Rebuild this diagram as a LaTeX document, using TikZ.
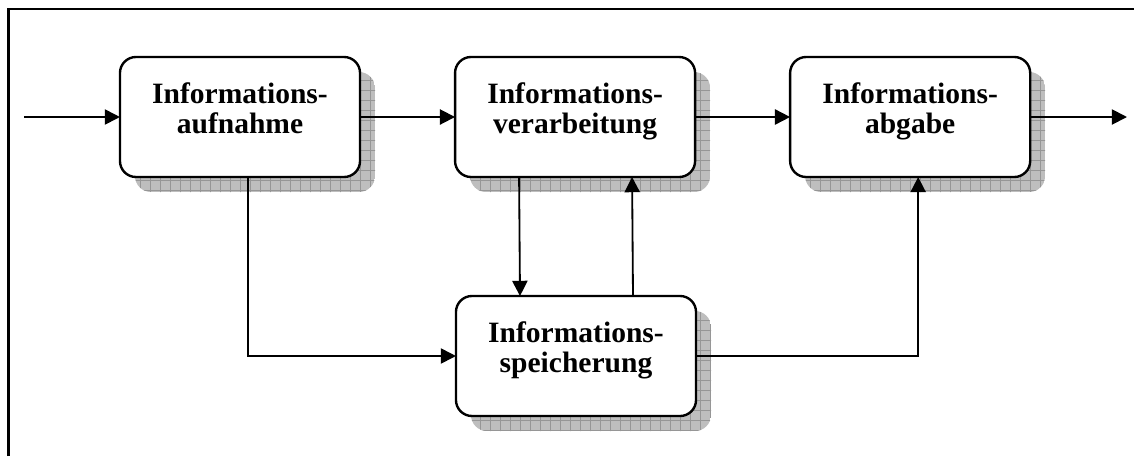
\documentclass[tikz,border=0pt]{standalone}
\usepackage{fontspec}
\setmainfont{Liberation Serif}
\usepackage{tikz}
\usetikzlibrary{arrows.meta, positioning, backgrounds}
\definecolor{shadowgray}{RGB}{190, 190, 190}
\definecolor{gridgray}{RGB}{150, 150, 150}

\begin{document}
\begin{tikzpicture}[
  x=0.025cm, y=-0.025cm,
  infobox/.style={rectangle, rounded corners=0.4cm, draw=black, line width=1.7pt, fill=white,
                  minimum width=6cm, minimum height=3cm, outer sep=0pt},
  infotext/.style={align=center, inner sep=0pt, anchor=north,
                   font=\fontsize{21}{21.3}\selectfont\bfseries},
  arrow/.style={-{Triangle[length=0.38cm, width=0.38cm]}, line width=1.3pt},
  frameline/.style={line width=1.8pt}
]
\useasboundingbox (0,0) rectangle (1134,456);

% frame (only top and left edge visible)
\draw[frameline] (8.5,456) -- (8.5,9) -- (1134,9);

% boxes
\node[infobox] (auf) at (240,117) {};
\node[infobox, right=2.375cm of auf] (ver) {};
\node[infobox, right=2.375cm of ver] (abg) {};
\node[infobox] (spe) at (576,356) {};

\node[infotext] (auf-t) at (auf.center |- 0,82) {Informations-\\aufnahme};
\node[infotext] (ver-t) at (ver.center |- 0,82) {Informations-\\verarbeitung};
\node[infotext] (abg-t) at (abg.center |- 0,82) {Informations-\\abgabe};
\node[infotext] (spe-t) at (spe.center |- 0,321) {Informations-\\speicherung};

% shadows
\begin{scope}[on background layer]
\foreach \n in {auf,ver,abg,spe} {
  \begin{scope}
    \clip[rounded corners=0.4cm] ([shift={(15,15)}]\n.north west) rectangle ([shift={(15,15)}]\n.south east);
    \fill[shadowgray] ([shift={(15,15)}]\n.north west) rectangle ([shift={(15,15)}]\n.south east);
    \draw[gridgray, line width=0.5pt, step=0.25cm] ([shift={(10,10)}]\n.north west) grid ([shift={(20,20)}]\n.south east);
  \end{scope}
}
\end{scope}

% connectors
\coordinate (in) at (24,117);
\coordinate (out) at (1127,117);
\draw[arrow] (in) -- (auf);
\draw[arrow] (auf) -- (ver);
\draw[arrow] (ver) -- (abg);
\draw[arrow] (abg) -- (out);
\draw[arrow] ([shift={(8,0)}]auf.south) |- (spe);
\draw[arrow] ([shift={(-56,0)}]ver.south) -- ([shift={(-56,0)}]spe.north);
\draw[arrow] ([shift={(57,0)}]spe.north) -- ([shift={(57,0)}]ver.south);
\draw[arrow] (spe) -| ([shift={(8,0)}]abg.south);

\end{tikzpicture}
\end{document}
